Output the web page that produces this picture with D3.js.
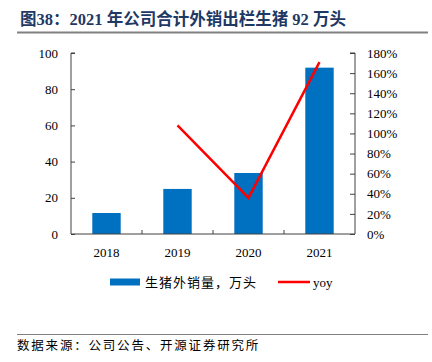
<!DOCTYPE html>
<html>
<head>
<meta charset="utf-8">
<script src="https://cdn.jsdelivr.net/npm/d3@7"></script>
<style>
  body { margin: 0; background: #fff; }
  text { font-family: "Liberation Serif", "Times New Roman", serif; }
  .cjk { font-family: "Liberation Serif", "Noto Sans CJK SC", serif; }
</style>
</head>
<body>
<svg id="chart" width="432" height="362"></svg>
<script>
var years = ["2018", "2019", "2020", "2021"];
var sales = [11.6, 24.9, 33.7, 91.9];           // 生猪外销量，万头
var yoy = [null, 108, 36, 171];                  // %
var leftTicks = [0, 20, 40, 60, 80, 100];
var rightTicks = [0, 20, 40, 60, 80, 100, 120, 140, 160, 180];

var svg = d3.select("#chart");
var margin = {left: 71, right: 77, top: 53, bottom: 128};
var width = 432 - margin.left - margin.right;
var height = 362 - margin.top - margin.bottom;
var axisColor = "#404040";

// title
svg.append("text")
    .attr("class", "cjk")
    .attr("x", 20).attr("y", 25)
    .style("font-size", "16.5px")
    .style("font-weight", "bold")
    .style("fill", "#1f3864")
    .text("图38：2021 年公司合计外销出栏生猪 92 万头");
svg.append("line")
    .attr("x1", 17).attr("x2", 428).attr("y1", 32.5).attr("y2", 32.5)
    .attr("stroke", "#808080").attr("stroke-width", 2);

var g = svg.append("g").attr("transform", "translate(" + margin.left + "," + margin.top + ")");

var x = d3.scaleBand().domain(years).range([0, width]).paddingInner(0.6).paddingOuter(0.3);
var xb = d3.scaleBand().domain(years).range([0, width]);
var y = d3.scaleLinear().domain([0, 100]).range([height, 0]);
var y2 = d3.scaleLinear().domain([0, 180]).range([height, 0]);

// bars
g.selectAll(".bar")
    .data(sales)
    .enter()
    .append("rect")
    .attr("class", "bar")
    .attr("x", function (d, i) { return x(years[i]); })
    .attr("y", function (d) { return y(d); })
    .attr("width", x.bandwidth())
    .attr("height", function (d) { return height - y(d); })
    .style("fill", "#0070c0");

// axes
var leftAxis = d3.axisLeft(y).tickValues(leftTicks).tickSize(-4).tickPadding(13);
var rightAxis = d3.axisRight(y2).tickValues(rightTicks).tickSize(-5).tickPadding(12)
    .tickFormat(function (d) { return d + "%"; });

function styleAxis(sel) {
    sel.select(".domain").attr("stroke", axisColor);
    sel.selectAll(".tick line").attr("stroke", axisColor);
    sel.selectAll(".tick text")
        .style("font-family", "Liberation Serif, serif")
        .style("font-size", "13px")
        .style("fill", "#000");
}

g.append("g").call(leftAxis).call(styleAxis)
    .call(function (s) { s.select(".domain").attr("d", "M0," + height + "V0h4"); });
g.append("g").attr("transform", "translate(" + width + ",0)").call(rightAxis).call(styleAxis)
    .call(function (s) { s.select(".domain").attr("d", "M0," + height + "V0h-5"); });

// x axis with ticks at category boundaries
var xAxisG = g.append("g").attr("transform", "translate(0," + height + ")");
xAxisG.append("line")
    .attr("x1", 0).attr("x2", width).attr("y1", 0).attr("y2", 0)
    .attr("stroke", axisColor);
xAxisG.selectAll(".xtick")
    .data(years.slice(1))
    .enter()
    .append("line")
    .attr("x1", function (d) { return xb(d); })
    .attr("x2", function (d) { return xb(d); })
    .attr("y1", 0).attr("y2", -4)
    .attr("stroke", axisColor);
xAxisG.selectAll(".xlabel")
    .data(years)
    .enter()
    .append("text")
    .attr("x", function (d) { return xb(d) + xb.bandwidth() / 2; })
    .attr("y", 23)
    .attr("text-anchor", "middle")
    .style("font-size", "13px")
    .text(function (d) { return d; });

// yoy line
var line = d3.line()
    .defined(function (d) { return d !== null; })
    .x(function (d, i) { return xb(years[i]) + xb.bandwidth() / 2; })
    .y(function (d) { return y2(d); });

g.append("path")
    .datum(yoy)
    .attr("d", line)
    .attr("fill", "none")
    .attr("stroke", "#ff0000")
    .attr("stroke-width", 2.5);

// legend
var legend = svg.append("g").attr("transform", "translate(0,282)");
legend.append("rect")
    .attr("x", 110).attr("y", -3.5).attr("width", 30).attr("height", 7)
    .style("fill", "#0070c0");
legend.append("text")
    .attr("class", "cjk")
    .attr("x", 145).attr("y", 4.5)
    .style("font-size", "13px")
    .style("letter-spacing", "1px")
    .text("生猪外销量，万头");
legend.append("line")
    .attr("x1", 278).attr("x2", 310).attr("y1", 0).attr("y2", 0)
    .attr("stroke", "#ff0000").attr("stroke-width", 2.5);
legend.append("text")
    .attr("x", 313).attr("y", 4.5)
    .style("font-size", "13px")
    .text("yoy");

// source
svg.append("line")
    .attr("x1", 17).attr("x2", 428).attr("y1", 334.5).attr("y2", 334.5)
    .attr("stroke", "#808080").attr("stroke-width", 1);
svg.append("text")
    .attr("class", "cjk")
    .attr("x", 17).attr("y", 350)
    .style("font-size", "12.5px")
    .style("letter-spacing", "1.8px")
    .text("数据来源：公司公告、开源证券研究所");
</script>
</body>
</html>
